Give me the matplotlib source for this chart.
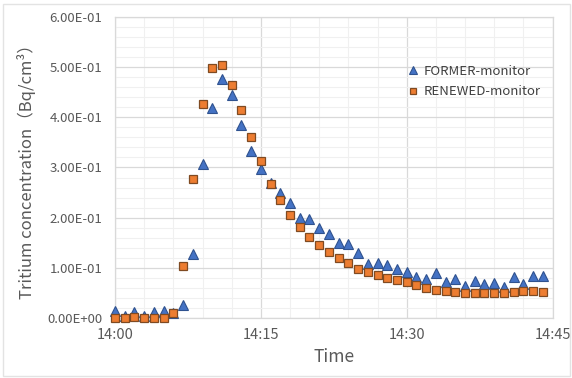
import matplotlib
matplotlib.use("Agg")
import matplotlib.pyplot as plt
from matplotlib.ticker import MultipleLocator, FixedLocator, FuncFormatter
from matplotlib.patches import Rectangle

plt.rcParams['font.family'] = ['Noto Sans CJK JP', 'DejaVu Sans']

# minutes after 14:00
minutes = list(range(45))
former = [0.014, 0.004, 0.013, 0.004, 0.012, 0.015, 0.010, 0.027, 0.128, 0.307,
          0.418, 0.477, 0.445, 0.385, 0.332, 0.297, 0.270, 0.250, 0.229, 0.200,
          0.198, 0.179, 0.168, 0.149, 0.148, 0.130, 0.109, 0.111, 0.107, 0.098,
          0.093, 0.083, 0.078, 0.090, 0.072, 0.078, 0.065, 0.075, 0.068, 0.071,
          0.063, 0.082, 0.069, 0.085, 0.085]
renewed = [0.000, 0.000, 0.002, 0.000, 0.000, 0.000, 0.010, 0.105, 0.277, 0.427,
           0.498, 0.503, 0.465, 0.414, 0.361, 0.312, 0.268, 0.235, 0.206, 0.182,
           0.162, 0.145, 0.131, 0.120, 0.110, 0.099, 0.093, 0.087, 0.081, 0.077,
           0.072, 0.066, 0.060, 0.057, 0.054, 0.053, 0.051, 0.050, 0.050, 0.050,
           0.051, 0.052, 0.055, 0.054, 0.053]
xtick_pos = [0, 15, 30, 45]
xtick_labels = ["14:00", "14:15", "14:30", "14:45"]
series_names = ["FORMER-monitor", "RENEWED-monitor"]

W, H = 572, 378
fig = plt.figure(figsize=(W / 100, H / 100), dpi=100)
ax = fig.add_axes([115 / W, 1 - 318.3 / H, (552.5 - 115) / W, (318.3 - 16.7) / H])

ax.plot(minutes, former, linestyle='none', marker='^', markersize=6.8,
        markerfacecolor='#4472C4', markeredgecolor='#2F528F', markeredgewidth=0.8,
        label=series_names[0], zorder=3, clip_on=False)
ax.plot(minutes, renewed, linestyle='none', marker='s', markersize=6.0,
        markerfacecolor='#ED7D31', markeredgecolor='#7F4A22', markeredgewidth=0.9,
        label=series_names[1], zorder=4, clip_on=False)

ax.set_xlim(0, 45)
ax.set_ylim(0, 0.6)
ax.xaxis.set_major_locator(FixedLocator(xtick_pos))
ax.set_xticklabels(xtick_labels)
ax.xaxis.set_minor_locator(MultipleLocator(3))
ax.yaxis.set_major_locator(MultipleLocator(0.1))
ax.yaxis.set_minor_locator(MultipleLocator(0.02))
ax.yaxis.set_major_formatter(FuncFormatter(lambda v, p: f"{v:.2E}"))

ax.grid(which='major', color='#d9d9d9', linewidth=0.9)
ax.grid(which='minor', color='#f0f0f0', linewidth=0.8)
ax.set_axisbelow(True)
for s in ax.spines.values():
    s.set_color('#d9d9d9')
    s.set_linewidth(0.9)

ax.tick_params(which='both', length=0)
ax.tick_params(axis='y', labelsize=9.5, labelcolor='#595959', pad=9)
ax.tick_params(axis='x', labelsize=10.5, labelcolor='#595959', pad=7)

ax.set_xlabel("Time", fontsize=12.5, color='#595959', labelpad=4)
ax.set_ylabel("Tritium concentration（Bq/cm³）", fontsize=12, color='#595959', labelpad=8)

leg = ax.legend(loc='upper left', bbox_to_anchor=(0.669, 0.84), frameon=False,
                fontsize=9.5, handlelength=0.8, handletextpad=0.4, markerscale=0.75,
                borderaxespad=0, borderpad=0, labelspacing=0.55)
for t in leg.get_texts():
    t.set_color('#404040')

fig.patches.append(Rectangle((3 / W, 2 / H), (W - 5) / W, (H - 6) / H,
                             transform=fig.transFigure, fill=False,
                             edgecolor='#e3e3e3', linewidth=1.0))

fig.savefig("out.png", dpi=100)
